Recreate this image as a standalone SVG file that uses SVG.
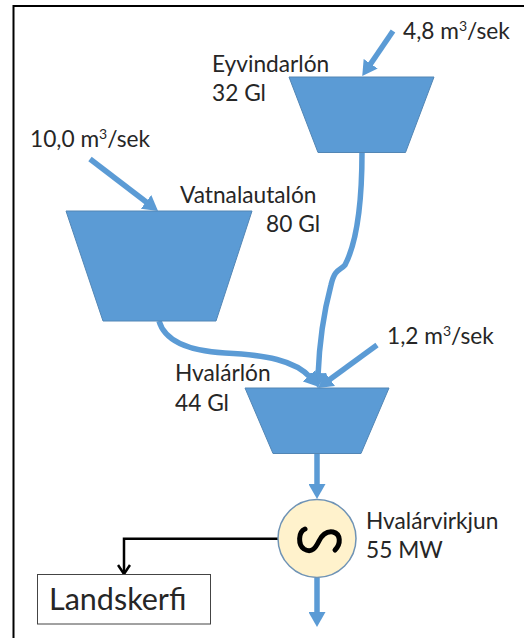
<svg xmlns="http://www.w3.org/2000/svg" width="524" height="638" viewBox="0 0 524 638">
<defs>
<style>
.t{font-family:"Lato","Open Sans",sans-serif;font-size:22.700px;fill:#262626}
.res{fill:#5b9bd5;stroke:#5286b5;stroke-width:1}
.flow{fill:none;stroke:#5b9bd5;stroke-width:5.500}
</style>
<marker id="bh" markerUnits="userSpaceOnUse" markerWidth="18" markerHeight="17" refX="3" refY="8.500" orient="auto"><path d="M0 0L15 8.500L0 17Z" fill="#5b9bd5"/></marker>
<marker id="kh" markerUnits="userSpaceOnUse" markerWidth="12" markerHeight="14" refX="10" refY="7" orient="auto"><path d="M1 1L10 7L1 13" fill="none" stroke="#000" stroke-width="2.500"/></marker>
</defs>
<rect width="524" height="638" fill="#fff"/>
<path d="M13.500 638V6H524" fill="none" stroke="#000" stroke-width="2"/>
<g id="connectors">
<path class="flow" d="M393 31L369 66.200" marker-end="url(#bh)"/>
<path class="flow" d="M90 159L148.500 203.700" marker-end="url(#bh)"/>
<path class="flow" d="M362 152C362 200 358 240 345 265C340 271 335 268 331 285C323 315 319 350 318 376" marker-end="url(#bh)"/>
<path class="flow" d="M159 321C165 342 190 351 225 353C265 355 295 360 311 378" marker-end="url(#bh)"/>
<path class="flow" d="M377 345L327.700 381" marker-end="url(#bh)"/>
<path class="flow" d="M317 454V487" marker-end="url(#bh)"/>
<path class="flow" d="M317 578V615" marker-end="url(#bh)"/>
<path d="M278 538.700H124V574" fill="none" stroke="#000" stroke-width="2.500" marker-end="url(#kh)"/>
</g>
<g id="eyvindarlon"><polygon class="res" points="289,77 434,77 405.500,152.500 318,152.500"/>
<text class="t" x="212" y="72">Eyvindarlón</text><text class="t" x="212" y="101">32 Gl</text></g>
<g id="vatnalautalon"><polygon class="res" points="66,211 252,211 216,321 103,321"/>
<text class="t" x="180" y="203">Vatnalautalón</text><text class="t" x="320" y="232" text-anchor="end">80 Gl</text></g>
<g id="hvalarlon"><polygon class="res" points="245,388 389,388 361,453.500 273,453.500"/>
<text class="t" x="175" y="381">Hvalárlón</text><text class="t" x="175" y="411">44 Gl</text></g>
<g id="inflow1"><text class="t" x="403" y="39">4,8 m<tspan font-size="14" dy="-8">3</tspan><tspan dy="8">/sek</tspan></text></g>
<g id="inflow2"><text class="t" x="30" y="147">10,0 m<tspan font-size="14" dy="-8">3</tspan><tspan dy="8">/sek</tspan></text></g>
<g id="inflow3"><text class="t" x="387" y="344">1,2 m<tspan font-size="14" dy="-8">3</tspan><tspan dy="8">/sek</tspan></text></g>
<g id="hvalarvirkjun"><circle cx="317" cy="538.500" r="39" fill="#fff2cc" stroke="#6f93b5" stroke-width="1.500"/>
<path d="M305 529C298 532 298 545 304 549C312 554 316 547 319 541C322 535 327 531 333 532C341 534 341 544 335 550" fill="none" stroke="#000" stroke-width="5" stroke-linecap="round"/>
<text class="t" x="366" y="529">Hvalárvirkjun</text><text class="t" x="366" y="558">55 MW</text></g>
<g id="landskerfi"><rect x="37.500" y="574.500" width="173" height="49.500" fill="#fff" stroke="#444" stroke-width="1"/>
<text class="t" x="49" y="610" style="font-size:30.500px">Landskerfi</text></g>
</svg>
